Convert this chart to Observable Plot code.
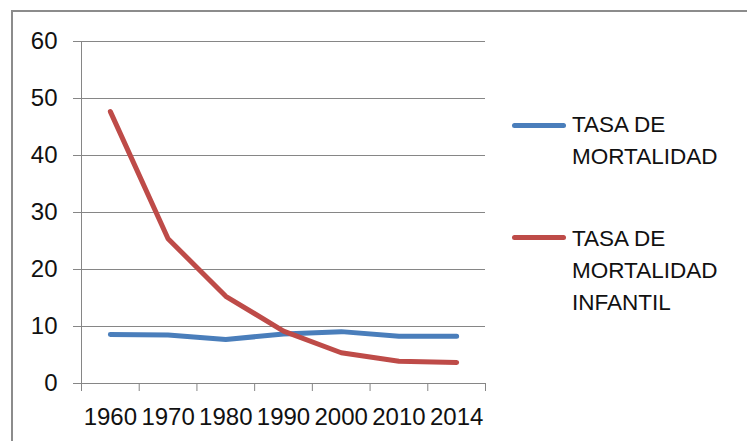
<!DOCTYPE html>
<html>
<head>
<meta charset="utf-8">
<script src="https://cdn.jsdelivr.net/npm/d3@7"></script>
<script src="https://cdn.jsdelivr.net/npm/@observablehq/plot@0.6"></script>
<style>
  html, body { margin: 0; padding: 0; background: #fff; }
  #wrap { position: relative; width: 747px; height: 441px; overflow: hidden; font-family: "Liberation Sans", Arial, sans-serif; }
  #frame { position: absolute; left: 11px; top: 10px; width: 900px; height: 600px; border-left: 2px solid #8c8c8c; border-top: 2px solid #8c8c8c; }
  #chart { position: absolute; left: 0; top: 0; }
  .leg { position: absolute; left: 572px; font-size: 22.5px; line-height: 32px; color: #111; white-space: nowrap; }
  .sw { position: absolute; left: 512px; width: 54px; height: 5px; border-radius: 3px; }
</style>
</head>
<body>
<div id="wrap">
  <div id="frame"></div>
  <div id="chart"></div>
</div>
<script>
const years = ["1960", "1970", "1980", "1990", "2000", "2010", "2014"];
const mortalidad = [8.6, 8.5, 7.7, 8.7, 9.1, 8.3, 8.3];
const infantil = [47.7, 25.4, 15.3, 9.2, 5.4, 3.9, 3.7];
const seriesNames = ["TASA DE MORTALIDAD", "TASA DE MORTALIDAD INFANTIL"];
const seriesColors = ["#4A7EBB", "#BE4B48"];
const yTicks = [0, 10, 20, 30, 40, 50, 60];

const data = years.flatMap((yr, i) => [
  {i, year: yr, serie: seriesNames[0], v: mortalidad[i]},
  {i, year: yr, serie: seriesNames[1], v: infantil[i]}
]);

const grey = "#868686";

const chart = Plot.plot({
  width: 747,
  height: 441,
  marginLeft: 81,
  marginRight: 262,
  marginTop: 41,
  marginBottom: 58,
  style: {fontSize: "24px", fontFamily: "Liberation Sans, Arial, sans-serif", background: "transparent", color: "#111"},
  x: {domain: [0, years.length], label: null},
  y: {domain: [0, 60], label: null},
  color: {domain: seriesNames, range: seriesColors},
  marks: [
    Plot.gridY(yTicks, {stroke: grey, strokeOpacity: 1}),
    Plot.axisY(yTicks, {tickSize: 8, tickPadding: 16, stroke: grey, fill: "#111", label: null}),
    Plot.ruleX([0], {stroke: grey}),
    Plot.axisX(d3.range(years.length + 1), {tickSize: 8, tickFormat: () => "", stroke: grey, label: null}),
    Plot.axisX(years.map((_, i) => i + 0.5), {tickSize: 0, tickPadding: 24, tickFormat: d => years[Math.floor(d)], fill: "#111", label: null}),
    Plot.lineY(data, {x: d => d.i + 0.5, y: "v", z: "serie", stroke: "serie", strokeWidth: 5, strokeLinejoin: "round", strokeLinecap: "round"})
  ]
});
document.getElementById("chart").appendChild(chart);

// Legend
const wrap = document.getElementById("wrap");
const legendEntries = [
  {name: seriesNames[0], lines: ["TASA DE", "MORTALIDAD"], color: seriesColors[0], top: 109, sw: 123},
  {name: seriesNames[1], lines: ["TASA DE", "MORTALIDAD", "INFANTIL"], color: seriesColors[1], top: 223, sw: 235}
];
for (const e of legendEntries) {
  const sw = document.createElement("div");
  sw.className = "sw";
  sw.style.top = e.sw + "px";
  sw.style.background = e.color;
  wrap.appendChild(sw);
  const t = document.createElement("div");
  t.className = "leg";
  t.style.top = e.top + "px";
  t.innerHTML = e.lines.join("<br>");
  wrap.appendChild(t);
}
</script>
</body>
</html>
